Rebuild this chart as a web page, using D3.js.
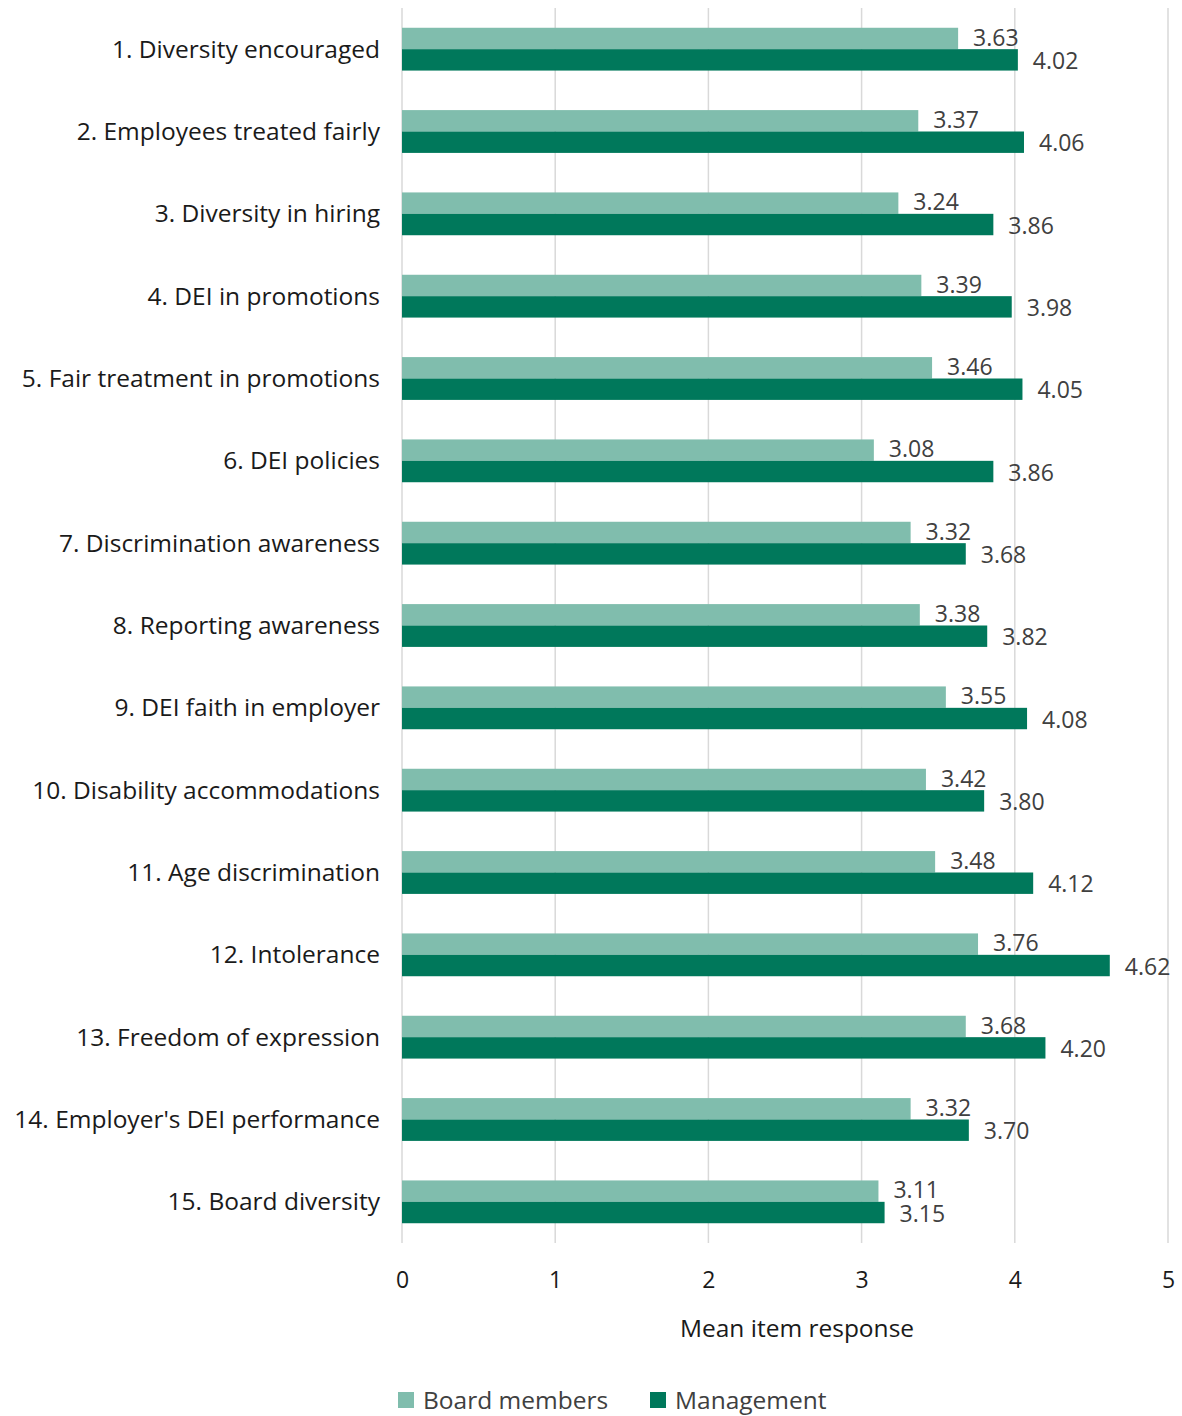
<!DOCTYPE html>
<html>
<head>
<meta charset="utf-8">
<script src="https://cdn.jsdelivr.net/npm/d3@7"></script>
<style>
  body { margin: 0; background: #fff; }
  svg { display: block; font-family: "Open Sans", "Lato", sans-serif; }
</style>
</head>
<body>
<div id="viz"></div>
<script>
const width = 1182;
const height = 1416;
const margin = {top: 8, right: 14, bottom: 173, left: 402};

// Chart data
const items = [
  '1. Diversity encouraged',
  '2. Employees treated fairly',
  '3. Diversity in hiring',
  '4. DEI in promotions',
  '5. Fair treatment in promotions',
  '6. DEI policies',
  '7. Discrimination awareness',
  '8. Reporting awareness',
  '9. DEI faith in employer',
  '10. Disability accommodations',
  '11. Age discrimination',
  '12. Intolerance',
  '13. Freedom of expression',
  "14. Employer's DEI performance",
  '15. Board diversity'
];
const boardValues = [3.63, 3.37, 3.24, 3.39, 3.46, 3.08, 3.32, 3.38, 3.55, 3.42, 3.48, 3.76, 3.68, 3.32, 3.11];
const managementValues = [4.02, 4.06, 3.86, 3.98, 4.05, 3.86, 3.68, 3.82, 4.08, 3.80, 4.12, 4.62, 4.20, 3.70, 3.15];
const xTicks = [0, 1, 2, 3, 4, 5];

const groups = [
  { key: 'board', label: 'Board members', color: '#80bdad', values: boardValues },
  { key: 'management', label: 'Management', color: '#00785b', values: managementValues }
];

const rows = items.map((item, i) => ({
  item: item,
  board: boardValues[i],
  management: managementValues[i]
}));

const svg = d3.select('#viz')
  .append('svg')
    .attr('width', width)
    .attr('height', height);

// Scales
const scaleX = d3.scaleLinear()
  .domain([0, 5])
  .range([margin.left, width - margin.right]);

const scaleY = d3.scaleBand()
  .domain(items)
  .range([margin.top, height - margin.bottom])
  .paddingInner(0.48)
  .paddingOuter(0.24);

const scaleGroup = d3.scaleBand()
  .domain(groups.map(g => g.key))
  .range([0, scaleY.bandwidth()]);

// Gridlines
svg.append('g')
    .attr('class', 'grid')
  .selectAll('line')
  .data(xTicks)
  .join('line')
    .attr('x1', d => scaleX(d))
    .attr('x2', d => scaleX(d))
    .attr('y1', margin.top)
    .attr('y2', height - margin.bottom)
    .attr('stroke', '#d9d9d9')
    .attr('stroke-width', 1.5);

// Bars
const rowGroups = svg.append('g')
    .attr('class', 'bars')
  .selectAll('g')
  .data(rows)
  .join('g')
    .attr('transform', d => `translate(0,${scaleY(d.item)})`);

rowGroups.selectAll('rect')
  .data(d => groups.map(g => ({ key: g.key, value: d[g.key], color: g.color })))
  .join('rect')
    .attr('x', scaleX(0))
    .attr('y', d => scaleGroup(d.key))
    .attr('width', d => scaleX(d.value) - scaleX(0))
    .attr('height', scaleGroup.bandwidth())
    .attr('fill', d => d.color);

// Value labels (board nudged up, management nudged down so they don't collide)
rowGroups.selectAll('text')
  .data(d => groups.map(g => ({ key: g.key, value: d[g.key] })))
  .join('text')
    .attr('x', d => scaleX(d.value) + 15)
    .attr('y', d => scaleGroup(d.key) + scaleGroup.bandwidth() / 2 + (d.key === 'board' ? -1 : 1))
    .attr('dy', '0.35em')
    .style('font-size', '23px')
    .style('fill', '#404040')
    .text(d => d3.format('.2f')(d.value));

// Y axis labels
svg.append('g')
    .attr('class', 'y-labels')
  .selectAll('text')
  .data(items)
  .join('text')
    .attr('x', 380)
    .attr('y', d => scaleY(d) + scaleY.bandwidth() / 2)
    .attr('dy', '0.35em')
    .attr('text-anchor', 'end')
    .style('font-size', '24.5px')
    .style('fill', '#1a1a1a')
    .text(d => d);

// X axis
const axisBottom = d3.axisBottom(scaleX)
  .tickValues(xTicks)
  .tickFormat(d3.format('d'))
  .tickSize(0)
  .tickPadding(29);
const xAxis = svg.append('g')
    .attr('transform', `translate(0,${height - margin.bottom})`)
    .call(axisBottom);
xAxis.select('.domain').remove();
xAxis.selectAll('text')
    .style('font-family', '"Open Sans", "Lato", sans-serif')
    .style('font-size', '23px')
    .style('fill', '#1a1a1a');

svg.append('text')
    .attr('x', 797)
    .attr('y', 1328)
    .attr('dy', '0.35em')
    .attr('text-anchor', 'middle')
    .style('font-size', '24.5px')
    .style('fill', '#1a1a1a')
    .text('Mean item response');

// Legend
const legendX = [398, 650];
const legend = svg.append('g')
    .attr('class', 'legend')
  .selectAll('g')
  .data(groups)
  .join('g')
    .attr('transform', (d, i) => `translate(${legendX[i]},1400)`);
legend.append('rect')
    .attr('x', 0)
    .attr('y', -8)
    .attr('width', 16)
    .attr('height', 16)
    .attr('fill', d => d.color);
legend.append('text')
    .attr('x', 25)
    .attr('y', 0)
    .attr('dy', '0.35em')
    .style('font-size', '24.5px')
    .style('fill', '#404040')
    .text(d => d.label);
</script>
</body>
</html>
